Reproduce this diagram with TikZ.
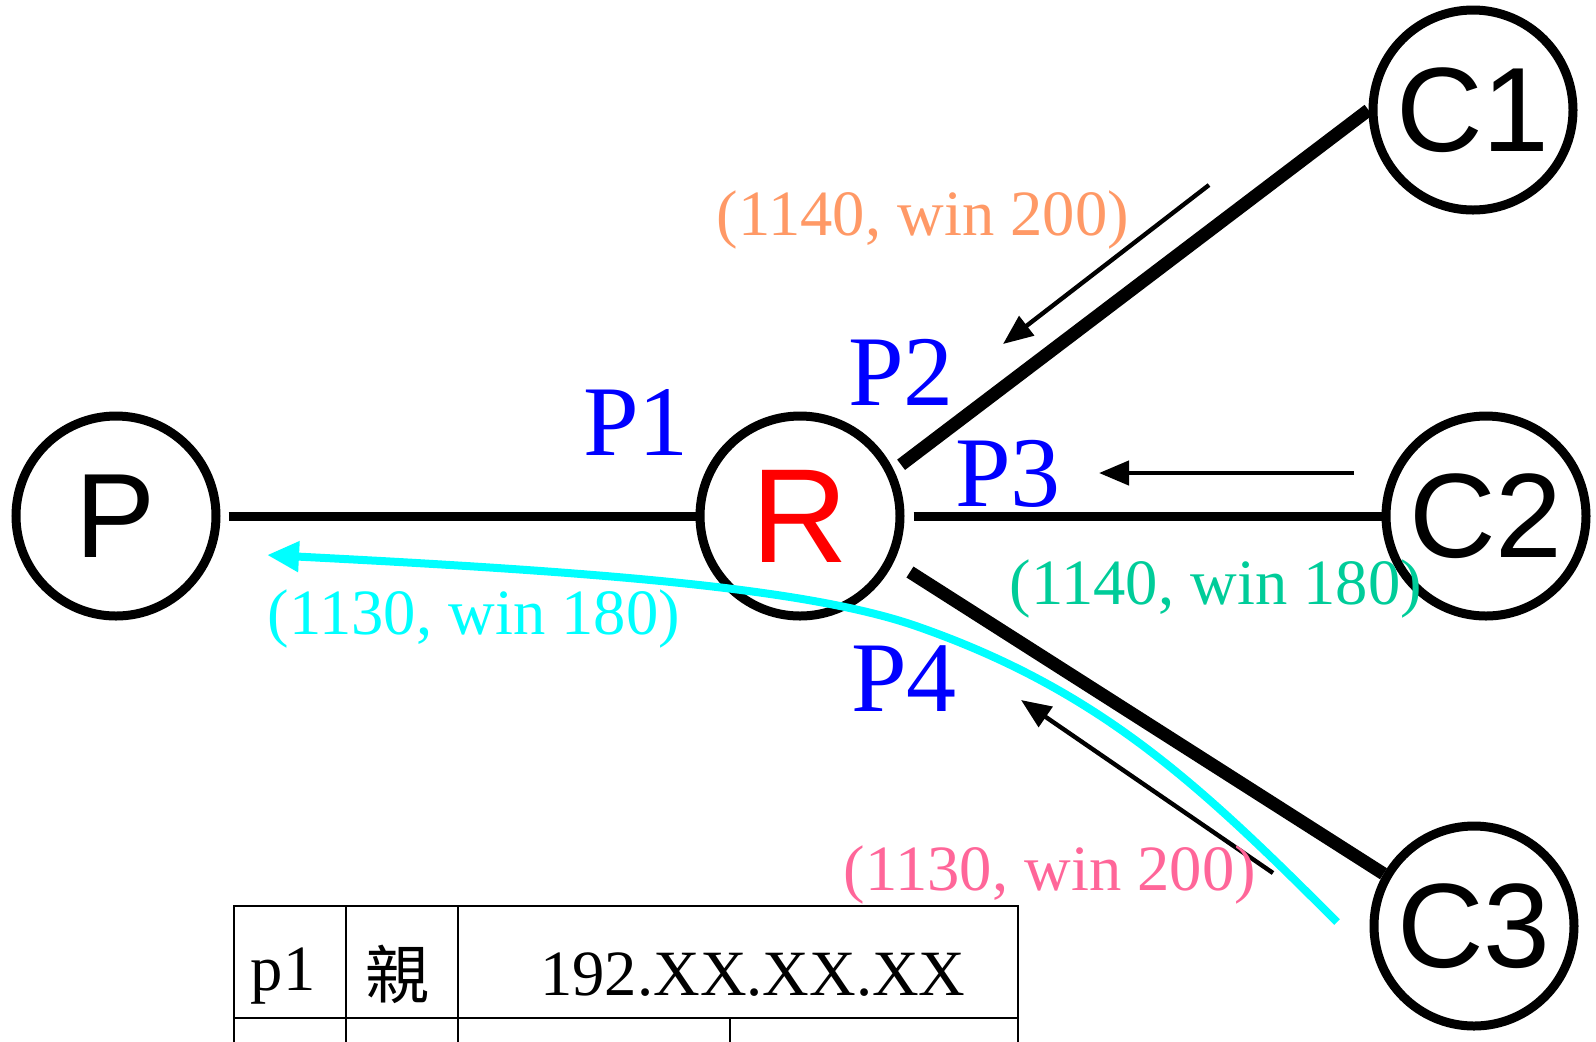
\documentclass[tikz,border=0pt]{standalone}
\usepackage{fontspec}
\setmainfont{Liberation Serif}
\setsansfont{Liberation Sans}
\newfontfamily\cjkfont{Noto Sans CJK TC}
\usepackage{xcolor}
\usetikzlibrary{arrows.meta,positioning,calc}
\definecolor{winorange}{HTML}{FF9966}
\definecolor{wingreen}{HTML}{00CC99}
\definecolor{winpink}{HTML}{FF6699}
\definecolor{wincyan}{HTML}{00FFFF}

\begin{document}
\begin{tikzpicture}[x=0.5pt, y=-0.5pt, every node/.style={inner sep=0pt},
    host/.style={draw, circle, line width=4.5pt, minimum size=100pt, font=\sffamily\fontsize{60}{60}\selectfont},
    port/.style={text=blue, font=\fontsize{50}{50}\selectfont},
    win/.style={font=\fontsize{32.3}{33}\selectfont},
    link/.style={line width=4.5pt},
    biglink/.style={line width=6.5pt},
    flow/.style={line width=2.2pt, -{Triangle[length=15pt, width=12pt]}}]
    \useasboundingbox (0,0) rectangle (1596,1041);
    \node[host] (P) at (116,516) {P};
    \node[host, text=red, font=\sffamily\fontsize{67}{67}\selectfont] (R) at (800,516) {R};
    \node[host] (C1) at (1473,110) {C1};
    \node[host] (C2) at (1486,516) {C2};
    \node[host] (C3) at (1474,926) {C3};
    \draw[link, shorten <=4pt] (P) -- (R);
    \draw[link, shorten <=4.5pt] (R) -- (C2);
    \draw[biglink, shorten >=4.5pt] (C1.west) -- (R.26);
    \draw[biglink, shorten <=9.5pt] (R.-26) -- (C3.150);
    \coordinate (f1s) at (1209,185);
    \coordinate (f1e) at (1003,344);
    \coordinate (f2s) at (1354,473);
    \coordinate (f2e) at (1099,473);
    \coordinate (f3s) at (1273,873);
    \coordinate (f3e) at (1021,700);
    \draw[flow] (f1s) -- (f1e);
    \draw[flow] (f2s) -- (f2e);
    \draw[flow] (f3s) -- (f3e);
    \coordinate (backs) at (1337,922);
    \coordinate (backe) at (267,555);
    \draw[wincyan, line width=4pt, -{Triangle[length=16pt, width=14.5pt]}]
      (backs) .. controls (1200,785) and (1100,690) .. (916,626)
      .. controls (806,588) and (600,572) .. (backe);
    \node[port] (p1) at (636,422) {P1};
    \node[port] (p2) at (901,372) {P2};
    \node[port] (p3) at (1008,474) {P3};
    \node[port] (p4) at (904,679) {P4};
    \node[win, text=winorange] (w1) at (923,220) {(1140, win 200)};
    \node[win, text=wingreen] (w2) at (1216,589) {(1140, win 180)};
    \node[win, text=wincyan] (w3) at (474,619) {(1130, win 180)};
    \node[win, text=winpink] (w4) at (1050,875) {(1130, win 200)};
    \draw[line width=1.2pt] (234,1045) -- (234,906) -- (1018,906) -- (1018,1045);
    \draw[line width=1.2pt] (346,906) -- (346,1045);
    \draw[line width=1.2pt] (458,906) -- (458,1045);
    \draw[line width=1.2pt] (234,1018) -- (1018,1018);
    \draw[line width=1.2pt] (730,1018) -- (730,1045);
    \node[win] (t1) at (283,976) {p1};
    \node[font=\cjkfont\fontsize{32}{33}\selectfont] (t2) at (397,974) {親};
    \node[win] (t3) at (753,975) {192.XX.XX.XX};
  \end{tikzpicture}
\end{document}
